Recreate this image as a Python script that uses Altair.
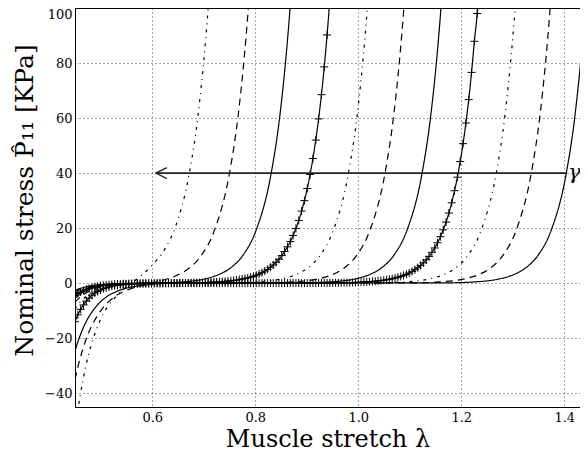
import altair as alt
import pandas as pd

X_TICKS = [0.6, 0.8, 1.0, 1.2, 1.4]
Y_TICKS = [-40, -20, 0, 20, 40, 60, 80, 100]
X_DOMAIN = [0.45, 1.4306]
Y_DOMAIN = [-45, 100]

# curve 1 (dash-dot)
lam_c1 = [0.45, 0.455, 0.46, 0.47, 0.48, 0.49, 0.50, 0.515, 0.53, 0.55, 0.575, 0.60, 0.625, 0.645, 0.672, 0.689, 0.709, 0.717]
p_c1 = [-54, -47, -40.9, -31, -23.4, -17.6, -13.0, -8.1, -4.75, -1.3, 2.2, 6.6, 12.6, 20.5, 40, 61.2, 101, 123]
# curve 2 (dashed)
lam_c2 = [0.45, 0.455, 0.46, 0.47, 0.48, 0.49, 0.50, 0.515, 0.53, 0.55, 0.575, 0.60, 0.62, 0.645, 0.67, 0.695, 0.72, 0.75, 0.767, 0.787, 0.795]
p_c2 = [-35, -30.9, -27.3, -21.2, -16.5, -12.9, -10.0, -6.8, -4.5, -2.6, -1.0, 0.1, 1.05, 2.6, 5.25, 10.0, 18.85, 40, 61.2, 101, 123]
# curve 3 (solid)
lam_c3 = [0.45, 0.455, 0.46, 0.47, 0.48, 0.49, 0.50, 0.515, 0.53, 0.55, 0.575, 0.60, 0.651, 0.701, 0.726, 0.751, 0.776, 0.801, 0.831, 0.848, 0.868, 0.876]
p_c3 = [-24.6, -21.6, -19.0, -14.6, -11.3, -8.7, -6.7, -4.5, -3.1, -1.8, -0.95, -0.4, 0.3, 1.5, 2.9, 5.4, 10.1, 18.9, 40, 61.2, 101, 123]
# curve 5 (dash-dot)
lam_c5 = [0.45, 0.455, 0.46, 0.47, 0.48, 0.49, 0.50, 0.515, 0.53, 0.55, 0.575, 0.60, 0.751, 0.801, 0.851, 0.876, 0.901, 0.926, 0.951, 0.981, 0.998, 1.018, 1.026]
p_c5 = [-9.5, -8.1, -6.9, -5.0, -3.6, -2.6, -1.9, -1.2, -0.7, -0.4, -0.2, -0.1, 0.13, 0.44, 1.55, 2.9, 5.4, 10.1, 18.9, 40, 61.2, 101, 123]
# curve 6 (dashed)
lam_c6 = [0.45, 0.455, 0.46, 0.47, 0.48, 0.49, 0.50, 0.515, 0.53, 0.55, 0.575, 0.60, 0.822, 0.872, 0.922, 0.947, 0.972, 0.997, 1.022, 1.052, 1.069, 1.089, 1.097]
p_c6 = [-7.0, -6.0, -5.1, -3.7, -2.7, -1.9, -1.4, -0.9, -0.5, -0.3, -0.1, -0.05, 0.13, 0.44, 1.55, 2.9, 5.4, 10.1, 18.9, 40, 61.2, 101, 123]
# curve 7 (solid)
lam_c7 = [0.45, 0.455, 0.46, 0.47, 0.48, 0.49, 0.50, 0.515, 0.53, 0.55, 0.575, 0.60, 0.894, 0.944, 0.994, 1.019, 1.044, 1.069, 1.094, 1.124, 1.141, 1.161, 1.169]
p_c7 = [-5.5, -4.7, -4.0, -2.9, -2.1, -1.5, -1.1, -0.7, -0.4, -0.2, -0.1, 0.0, 0.13, 0.44, 1.55, 2.9, 5.4, 10.1, 18.9, 40, 61.2, 101, 123]
# curve 9 (dash-dot)
lam_c9 = [0.45, 0.455, 0.46, 0.47, 0.48, 0.49, 0.50, 0.515, 0.53, 0.55, 0.575, 0.60, 1.038, 1.088, 1.138, 1.163, 1.188, 1.213, 1.238, 1.268, 1.285, 1.305, 1.313]
p_c9 = [-3.7, -3.2, -2.7, -1.9, -1.4, -1.0, -0.75, -0.46, -0.28, -0.15, -0.07, 0.0, 0.13, 0.44, 1.55, 2.9, 5.4, 10.1, 18.9, 40, 61.2, 101, 123]
# curve 10 (dashed)
lam_c10 = [0.45, 0.455, 0.46, 0.47, 0.48, 0.49, 0.50, 0.515, 0.53, 0.55, 0.575, 0.60, 1.106, 1.156, 1.206, 1.231, 1.256, 1.281, 1.306, 1.336, 1.353, 1.373, 1.381]
p_c10 = [-3.1, -2.6, -2.25, -1.6, -1.2, -0.86, -0.63, -0.39, -0.24, -0.13, -0.06, 0.0, 0.13, 0.44, 1.55, 2.9, 5.4, 10.1, 18.9, 40, 61.2, 101, 123]
# curve 11 (solid)
lam_c11 = [0.45, 0.455, 0.46, 0.47, 0.48, 0.49, 0.50, 0.515, 0.53, 0.55, 0.575, 0.60, 1.174, 1.224, 1.274, 1.299, 1.324, 1.349, 1.374, 1.404, 1.421, 1.441, 1.449]
p_c11 = [-2.6, -2.2, -1.9, -1.4, -1.0, -0.72, -0.53, -0.33, -0.2, -0.11, -0.05, 0.0, 0.13, 0.44, 1.55, 2.9, 5.4, 10.1, 18.9, 40, 61.2, 101, 123]

# plus-marked curves: samples every PLUS_STEP in stretch, from PLUS_START
PLUS_START = 0.45
PLUS_STEP = 0.0055
p_c4 = [-14.0, -11.5, -9.5, -7.9, -6.5, -5.4, -4.4, -3.6, -3.0, -2.5,
        -2.0, -1.7, -1.4, -1.1, -0.9, -0.8, -0.6, -0.5, -0.4, -0.4,
        -0.3, -0.25, -0.2, -0.17, -0.14, -0.11, -0.09, -0.08, -0.06, -0.05,
        -0.04, -0.03, -0.02, -0.01, 0.0, 0.02, 0.03, 0.05, 0.07, 0.08,
        0.1, 0.12, 0.14, 0.16, 0.18, 0.21, 0.24, 0.28, 0.32, 0.37,
        0.42, 0.49, 0.56, 0.64, 0.73, 0.84, 0.97, 1.1, 1.3, 1.5,
        1.7, 1.9, 2.2, 2.5, 2.9, 3.3, 3.8, 4.4, 5.0, 5.8,
        6.6, 7.6, 8.7, 10.0, 11.5, 13.2, 15.1, 17.3, 19.9, 22.8,
        26.2, 30.0, 34.4, 39.5, 45.3, 52.0, 59.7, 68.5, 78.6, 90.2,
        103.5, 118.8]
p_c8 = [-4.5, -3.8, -3.2, -2.7, -2.2, -1.9, -1.6, -1.3, -1.1, -0.9,
        -0.8, -0.65, -0.55, -0.45, -0.4, -0.3, -0.3, -0.2, -0.2, -0.15,
        -0.13, -0.11, -0.09, -0.08, -0.07, -0.06, -0.05, -0.04, -0.03, -0.03,
        -0.02, -0.02, -0.02, -0.01, -0.01, -0.01, -0.01, 0.0, 0.0, 0.0,
        0.0, 0.0, 0.0, 0.0, 0.0, 0.0, 0.0, 0.0, 0.0, 0.0,
        0.0, 0.0, 0.0, 0.0, 0.0, 0.0, 0.0, 0.0, 0.0, 0.0,
        0.0, 0.0, 0.0, 0.0, 0.0, 0.0, 0.01, 0.01, 0.01, 0.01,
        0.01, 0.01, 0.01, 0.02, 0.02, 0.02, 0.02, 0.02, 0.03, 0.03,
        0.03, 0.03, 0.04, 0.04, 0.04, 0.05, 0.05, 0.05, 0.06, 0.07,
        0.08, 0.09, 0.1, 0.12, 0.14, 0.16, 0.18, 0.21, 0.24, 0.27,
        0.31, 0.36, 0.41, 0.47, 0.54, 0.62, 0.71, 0.82, 0.94, 1.08,
        1.24, 1.42, 1.63, 1.87, 2.14, 2.46, 2.82, 3.24, 3.71, 4.26,
        4.89, 5.61, 6.44, 7.39, 8.48, 9.73, 11.2, 12.8, 14.7, 16.9,
        19.4, 22.2, 25.5, 29.2, 33.6, 38.5, 44.2, 50.7, 58.2, 66.7,
        76.6, 87.9, 98.0, 113.0]

# arrow annotation
arrow_lam = [1.405]
arrow_lam2 = [0.607]
arrow_p = [40]
gamma_text = ["γ"]
gamma_lam = [1.4073]
gamma_p = [40]

W, H = 505, 399
FONT = "DejaVu Serif"

rows = []
def add(name, style, lams, ps):
    for i, (l, p) in enumerate(zip(lams, ps)):
        rows.append({"curve": name, "style": style, "lam": l, "p": p, "ord": i})

lam_c4 = [round(PLUS_START + PLUS_STEP * j, 5) for j in range(len(p_c4))]
lam_c8 = [round(PLUS_START + PLUS_STEP * j, 5) for j in range(len(p_c8))]

add("c1", "dashdot", lam_c1, p_c1)
add("c2", "dashed", lam_c2, p_c2)
add("c3", "solid", lam_c3, p_c3)
add("c4", "solid", lam_c4, p_c4)
add("c5", "dashdot", lam_c5, p_c5)
add("c6", "dashed", lam_c6, p_c6)
add("c7", "solid", lam_c7, p_c7)
add("c8", "solid", lam_c8, p_c8)
add("c9", "dashdot", lam_c9, p_c9)
add("c10", "dashed", lam_c10, p_c10)
add("c11", "solid", lam_c11, p_c11)
df = pd.DataFrame(rows)

plus_df = pd.DataFrame({"lam": lam_c4 + lam_c8, "p": p_c4 + p_c8})
arrow_df = pd.DataFrame({"lam": arrow_lam, "lam2": arrow_lam2, "p": arrow_p})
head_df = pd.DataFrame({"lam": arrow_lam2, "p": arrow_p})
gamma_df = pd.DataFrame({"lam": gamma_lam, "p": gamma_p, "t": gamma_text})

xs = alt.Scale(domain=X_DOMAIN, nice=False, zero=False)
ys = alt.Scale(domain=Y_DOMAIN, nice=False, zero=False)

x_enc = alt.X("lam:Q", scale=xs, title="Muscle stretch λ",
              axis=alt.Axis(values=X_TICKS, format=".1f", labelPadding=4, titlePadding=3))
y_enc = alt.Y("p:Q", scale=ys, title="Nominal stress P̂₁₁ [KPa]",
              axis=alt.Axis(values=Y_TICKS, format="d", labelPadding=3, titlePadding=7,
                            labelFlush=True, titleFontSize=25, titleY=192))

lines = alt.Chart(df).mark_line(clip=True, color="black", strokeWidth=1.2, interpolate="monotone").encode(
    x=x_enc, y=y_enc, detail="curve:N", order="ord:Q",
    strokeDash=alt.StrokeDash("style:N", legend=None,
                              scale=alt.Scale(domain=["solid", "dashed", "dashdot"],
                                              range=[[1, 0], [7, 5], [3, 5, 1, 5]])))

plus = alt.Chart(plus_df).mark_point(shape="M-1,0L1,0M0,-1L0,1", size=64, filled=False,
                                      stroke="black", strokeWidth=1, opacity=1, clip=True).encode(
    x="lam:Q", y="p:Q")

arrow = alt.Chart(arrow_df).mark_rule(color="#222222", strokeWidth=1.6, clip=True).encode(
    x="lam:Q", x2="lam2:Q", y="p:Q")

head = alt.Chart(head_df).mark_point(shape="M2,-1L0,0L2,1", size=121, filled=False,
                                      stroke="#222222", strokeWidth=1.3, opacity=1).encode(
    x="lam:Q", y="p:Q")

gamma = alt.Chart(gamma_df).mark_text(font=FONT, fontSize=21, fontStyle="italic", align="left",
                                      baseline="middle", color="black").encode(
    x="lam:Q", y="p:Q", text="t:N")

top = alt.Chart(pd.DataFrame({"k": [0]})).mark_rule(color="black", strokeWidth=1).encode(
    x=alt.value(0), x2=alt.value(W), y=alt.value(0.5))

chart = alt.layer(lines, plus, arrow, head, gamma, top).properties(
    width=W, height=H,
    autosize=alt.AutoSizeParams(type="none"),
    padding={"left": 67, "top": 0, "right": 0, "bottom": 46},
).configure_view(stroke=None).configure_axis(
    labelFont=FONT, labelFontSize=13, labelColor="black",
    titleFont=FONT, titleFontSize=24, titleFontWeight="normal", titleColor="black",
    ticks=False, domain=True, domainColor="black", domainWidth=1,
    grid=True, gridColor="black", gridDash=[1, 3], gridWidth=0.8, gridOpacity=0.9,
)

chart.save("out.html", embed_options={"renderer": "svg", "actions": False})
